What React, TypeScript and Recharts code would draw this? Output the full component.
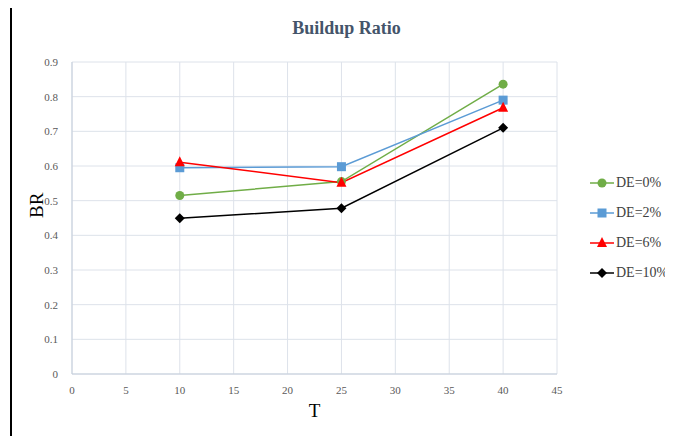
import React from "react"
import {
  LineChart,
  Line,
  XAxis,
  YAxis,
  CartesianGrid,
} from "recharts"

// T values (x axis)
const T_VALUES = [10, 25, 40]

// buildup ratio for each DE level
const DE0 = [0.515, 0.555, 0.836]
const DE2 = [0.595, 0.598, 0.79]
const DE6 = [0.611, 0.552, 0.768]
const DE10 = [0.449, 0.478, 0.71]

const X_TICKS = [0, 5, 10, 15, 20, 25, 30, 35, 40, 45]
const Y_TICKS = [0, 0.1, 0.2, 0.3, 0.4, 0.5, 0.6, 0.7, 0.8, 0.9]

const SERIES = [
  { key: "de0", name: "DE=0%", color: "#70ad47", shape: "circle" },
  { key: "de2", name: "DE=2%", color: "#5b9bd5", shape: "square" },
  { key: "de6", name: "DE=6%", color: "#ff0000", shape: "triangle" },
  { key: "de10", name: "DE=10%", color: "#000000", shape: "diamond" },
]

const data = T_VALUES.map((t, i) => ({
  t,
  de0: DE0[i],
  de2: DE2[i],
  de6: DE6[i],
  de10: DE10[i],
}))

const FONT = "Liberation Serif"

function Marker({ cx, cy, shape, color }: { cx: number; cy: number; shape: string; color: string }) {
  if (shape === "circle") return <circle cx={cx} cy={cy} r={4.5} fill={color} stroke="none" />
  if (shape === "square") return <rect x={cx - 4.5} y={cy - 4.5} width={9} height={9} fill={color} stroke="none" />
  if (shape === "triangle")
    return <polygon points={`${cx},${cy - 6} ${cx + 5},${cy + 4} ${cx - 5},${cy + 4}`} fill={color} stroke="none" />
  return <polygon points={`${cx},${cy - 5} ${cx + 5},${cy} ${cx},${cy + 5} ${cx - 5},${cy}`} fill={color} stroke="none" />
}

// legend drawn by hand, to the right of the plot
function ChartLegend() {
  return (
    <div style={{ position: "absolute", left: 590, top: 168, fontFamily: FONT }}>
      {SERIES.map((s) => (
        <div key={s.key} style={{ display: "flex", alignItems: "center", height: 30 }}>
          <svg width={24} height={14}>
            <line x1={0} y1={7} x2={24} y2={7} stroke={s.color} strokeWidth={1.5} />
            <Marker cx={12} cy={7} shape={s.shape} color={s.color} />
          </svg>
          <span style={{ fontSize: 14, color: "#404040", marginLeft: 2 }}>{s.name}</span>
        </div>
      ))}
    </div>
  )
}

export default function App() {
  return (
    <div style={{ position: "relative", margin: -8, width: 673, height: 444, background: "#fff", overflow: "hidden" }}>
      <div
        style={{
          position: "absolute",
          top: 18,
          left: 0,
          width: 693,
          textAlign: "center",
          fontFamily: FONT,
          fontWeight: "bold",
          fontSize: 18,
          color: "#44546a",
        }}
      >
        Buildup Ratio
      </div>
      <div style={{ position: "absolute", left: 0, top: 0 }}>
        <LineChart width={673} height={444} data={data} margin={{ top: 62, right: 116, bottom: 40, left: 12 }}>
          <CartesianGrid stroke="#dde2ea" strokeWidth={1} horizontal vertical />
          <XAxis
            dataKey="t"
            type="number"
            domain={[0, 45]}
            ticks={X_TICKS}
            interval={0}
            height={30}
            stroke="#c5cedb"
            tickLine={false}
            tick={{ fontSize: 11, fill: "#595959", fontFamily: FONT }}
            tickMargin={6}
            label={{ value: "T", position: "insideBottom", offset: -13, fontSize: 19, fill: "#000", fontFamily: FONT }}
          />
          <YAxis
            type="number"
            domain={[0, 0.9]}
            ticks={Y_TICKS}
            interval={0}
            width={60}
            stroke="#c5cedb"
            tickLine={false}
            tick={{ fontSize: 11, fill: "#595959", fontFamily: FONT }}
            tickMargin={8}
            label={{ value: "BR", angle: -90, position: "insideLeft", offset: 24, fontSize: 19, fill: "#000", fontFamily: FONT }}
          />
          {SERIES.map((s) => (
            <Line
              key={s.key}
              dataKey={s.key}
              name={s.name}
              type="linear"
              stroke={s.color}
              strokeWidth={1.5}
              isAnimationActive={false}
              dot={(p: any) => <Marker key={`${s.key}-${p.index}`} cx={p.cx} cy={p.cy} shape={s.shape} color={s.color} />}
              activeDot={false}
            />
          ))}
        </LineChart>
      </div>
      <ChartLegend />
      <svg
        width={673}
        height={444}
        style={{ position: "absolute", left: 0, top: 0, pointerEvents: "none" }}
      >
        <rect x={10} y={3} width={663} height={3} fill="#000" />
        <rect x={10} y={438} width={663} height={3} fill="#000" />
        <rect x={10} y={3} width={2} height={438} fill="#000" />
      </svg>
    </div>
  )
}
